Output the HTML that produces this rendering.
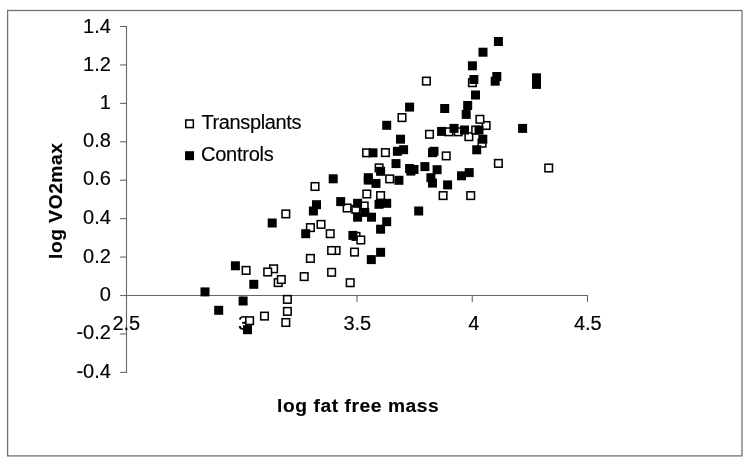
<!DOCTYPE html>
<html><head><meta charset="utf-8"><title>Scatter plot</title>
<style>
html,body{margin:0;padding:0;background:#fff}
body{width:750px;height:465px;overflow:hidden}
svg{display:block}
text{font-family:"Liberation Sans",Arial,sans-serif;fill:#000;stroke:#000;stroke-width:0.15px}
</style></head><body>
<svg width="750" height="465" viewBox="0 0 750 465">
<rect width="750" height="465" fill="#fff"/>
<rect x="7.6" y="10.5" width="734.4" height="445.4" fill="#fff" stroke="#727272" stroke-width="1.3"/>
<path d="M126.5 25.9V372.97M126.5 295.55H588.1" stroke="#666" stroke-width="1.1" fill="none"/>
<path d="M120.1 26.50H126.5" stroke="#666" stroke-width="1.1"/>
<text x="110.9" y="32.8" text-anchor="end" font-size="20">1.4</text>
<path d="M120.1 64.93H126.5" stroke="#666" stroke-width="1.1"/>
<text x="110.9" y="71.0" text-anchor="end" font-size="20">1.2</text>
<path d="M120.1 103.36H126.5" stroke="#666" stroke-width="1.1"/>
<text x="110.9" y="108.7" text-anchor="end" font-size="20">1</text>
<path d="M120.1 141.79H126.5" stroke="#666" stroke-width="1.1"/>
<text x="110.9" y="146.6" text-anchor="end" font-size="20">0.8</text>
<path d="M120.1 180.22H126.5" stroke="#666" stroke-width="1.1"/>
<text x="110.9" y="185.1" text-anchor="end" font-size="20">0.6</text>
<path d="M120.1 218.65H126.5" stroke="#666" stroke-width="1.1"/>
<text x="110.9" y="224.3" text-anchor="end" font-size="20">0.4</text>
<path d="M120.1 257.08H126.5" stroke="#666" stroke-width="1.1"/>
<text x="110.9" y="262.8" text-anchor="end" font-size="20">0.2</text>
<path d="M120.1 295.51H126.5" stroke="#666" stroke-width="1.1"/>
<text x="110.9" y="300.7" text-anchor="end" font-size="20">0</text>
<path d="M120.1 333.94H126.5" stroke="#666" stroke-width="1.1"/>
<text x="110.9" y="339.3" text-anchor="end" font-size="20">-0.2</text>
<path d="M120.1 372.37H126.5" stroke="#666" stroke-width="1.1"/>
<text x="110.9" y="377.5" text-anchor="end" font-size="20">-0.4</text>
<text x="112.40" y="329.9" font-size="20" >2.5</text>
<path d="M241.75 295.55V301.9" stroke="#666" stroke-width="1.1"/>
<text x="238.10" y="329.9" font-size="20" >3</text>
<path d="M357.00 295.55V301.9" stroke="#666" stroke-width="1.1"/>
<text x="343.40" y="329.9" font-size="20" >3.5</text>
<path d="M472.25 295.55V301.9" stroke="#666" stroke-width="1.1"/>
<text x="468.30" y="329.9" font-size="20" >4</text>
<path d="M587.50 295.55V301.9" stroke="#666" stroke-width="1.1"/>
<text x="573.90" y="329.9" font-size="20" >4.5</text>
<rect x="242.32" y="266.62" width="7.55" height="7.55" fill="#fff" stroke="#000" stroke-width="1.55"/>
<rect x="269.83" y="265.03" width="7.55" height="7.55" fill="#fff" stroke="#000" stroke-width="1.55"/>
<rect x="263.93" y="268.23" width="7.55" height="7.55" fill="#fff" stroke="#000" stroke-width="1.55"/>
<rect x="274.43" y="278.83" width="7.55" height="7.55" fill="#fff" stroke="#000" stroke-width="1.55"/>
<rect x="277.53" y="275.73" width="7.55" height="7.55" fill="#fff" stroke="#000" stroke-width="1.55"/>
<rect x="283.62" y="295.62" width="7.55" height="7.55" fill="#fff" stroke="#000" stroke-width="1.55"/>
<rect x="283.62" y="307.62" width="7.55" height="7.55" fill="#fff" stroke="#000" stroke-width="1.55"/>
<rect x="282.03" y="318.73" width="7.55" height="7.55" fill="#fff" stroke="#000" stroke-width="1.55"/>
<rect x="260.73" y="312.33" width="7.55" height="7.55" fill="#fff" stroke="#000" stroke-width="1.55"/>
<rect x="245.82" y="316.93" width="7.55" height="7.55" fill="#fff" stroke="#000" stroke-width="1.55"/>
<rect x="282.03" y="210.12" width="7.55" height="7.55" fill="#fff" stroke="#000" stroke-width="1.55"/>
<rect x="311.23" y="182.72" width="7.55" height="7.55" fill="#fff" stroke="#000" stroke-width="1.55"/>
<rect x="306.62" y="223.82" width="7.55" height="7.55" fill="#fff" stroke="#000" stroke-width="1.55"/>
<rect x="317.23" y="220.62" width="7.55" height="7.55" fill="#fff" stroke="#000" stroke-width="1.55"/>
<rect x="326.43" y="229.92" width="7.55" height="7.55" fill="#fff" stroke="#000" stroke-width="1.55"/>
<rect x="343.33" y="204.22" width="7.55" height="7.55" fill="#fff" stroke="#000" stroke-width="1.55"/>
<rect x="352.03" y="205.62" width="7.55" height="7.55" fill="#fff" stroke="#000" stroke-width="1.55"/>
<rect x="360.43" y="202.22" width="7.55" height="7.55" fill="#fff" stroke="#000" stroke-width="1.55"/>
<rect x="363.03" y="190.22" width="7.55" height="7.55" fill="#fff" stroke="#000" stroke-width="1.55"/>
<rect x="376.83" y="191.82" width="7.55" height="7.55" fill="#fff" stroke="#000" stroke-width="1.55"/>
<rect x="385.93" y="175.12" width="7.55" height="7.55" fill="#fff" stroke="#000" stroke-width="1.55"/>
<rect x="352.23" y="232.62" width="7.55" height="7.55" fill="#fff" stroke="#000" stroke-width="1.55"/>
<rect x="357.03" y="236.22" width="7.55" height="7.55" fill="#fff" stroke="#000" stroke-width="1.55"/>
<rect x="332.33" y="246.72" width="7.55" height="7.55" fill="#fff" stroke="#000" stroke-width="1.55"/>
<rect x="327.83" y="246.72" width="7.55" height="7.55" fill="#fff" stroke="#000" stroke-width="1.55"/>
<rect x="350.73" y="248.32" width="7.55" height="7.55" fill="#fff" stroke="#000" stroke-width="1.55"/>
<rect x="306.62" y="254.62" width="7.55" height="7.55" fill="#fff" stroke="#000" stroke-width="1.55"/>
<rect x="300.43" y="272.83" width="7.55" height="7.55" fill="#fff" stroke="#000" stroke-width="1.55"/>
<rect x="327.83" y="268.53" width="7.55" height="7.55" fill="#fff" stroke="#000" stroke-width="1.55"/>
<rect x="346.43" y="278.93" width="7.55" height="7.55" fill="#fff" stroke="#000" stroke-width="1.55"/>
<rect x="439.33" y="191.82" width="7.55" height="7.55" fill="#fff" stroke="#000" stroke-width="1.55"/>
<rect x="466.93" y="191.82" width="7.55" height="7.55" fill="#fff" stroke="#000" stroke-width="1.55"/>
<rect x="398.23" y="113.82" width="7.55" height="7.55" fill="#fff" stroke="#000" stroke-width="1.55"/>
<rect x="425.73" y="130.53" width="7.55" height="7.55" fill="#fff" stroke="#000" stroke-width="1.55"/>
<rect x="445.12" y="128.03" width="7.55" height="7.55" fill="#fff" stroke="#000" stroke-width="1.55"/>
<rect x="454.43" y="128.03" width="7.55" height="7.55" fill="#fff" stroke="#000" stroke-width="1.55"/>
<rect x="465.12" y="132.92" width="7.55" height="7.55" fill="#fff" stroke="#000" stroke-width="1.55"/>
<rect x="442.43" y="152.12" width="7.55" height="7.55" fill="#fff" stroke="#000" stroke-width="1.55"/>
<rect x="482.33" y="121.72" width="7.55" height="7.55" fill="#fff" stroke="#000" stroke-width="1.55"/>
<rect x="476.12" y="115.52" width="7.55" height="7.55" fill="#fff" stroke="#000" stroke-width="1.55"/>
<rect x="471.93" y="126.32" width="7.55" height="7.55" fill="#fff" stroke="#000" stroke-width="1.55"/>
<rect x="478.23" y="139.42" width="7.55" height="7.55" fill="#fff" stroke="#000" stroke-width="1.55"/>
<rect x="468.62" y="78.92" width="7.55" height="7.55" fill="#fff" stroke="#000" stroke-width="1.55"/>
<rect x="494.62" y="159.62" width="7.55" height="7.55" fill="#fff" stroke="#000" stroke-width="1.55"/>
<rect x="544.93" y="164.22" width="7.55" height="7.55" fill="#fff" stroke="#000" stroke-width="1.55"/>
<rect x="422.62" y="77.32" width="7.55" height="7.55" fill="#fff" stroke="#000" stroke-width="1.55"/>
<rect x="362.83" y="149.03" width="7.55" height="7.55" fill="#fff" stroke="#000" stroke-width="1.55"/>
<rect x="381.62" y="148.82" width="7.55" height="7.55" fill="#fff" stroke="#000" stroke-width="1.55"/>
<rect x="375.33" y="164.12" width="7.55" height="7.55" fill="#fff" stroke="#000" stroke-width="1.55"/>
<rect x="200.50" y="287.40" width="9.0" height="9.0" fill="#000"/>
<rect x="214.20" y="305.80" width="9.0" height="9.0" fill="#000"/>
<rect x="230.90" y="261.30" width="9.0" height="9.0" fill="#000"/>
<rect x="249.30" y="279.80" width="9.0" height="9.0" fill="#000"/>
<rect x="238.60" y="296.50" width="9.0" height="9.0" fill="#000"/>
<rect x="243.00" y="325.20" width="9.0" height="9.0" fill="#000"/>
<rect x="267.70" y="218.50" width="9.0" height="9.0" fill="#000"/>
<rect x="328.70" y="174.30" width="9.0" height="9.0" fill="#000"/>
<rect x="312.00" y="200.20" width="9.0" height="9.0" fill="#000"/>
<rect x="308.90" y="206.50" width="9.0" height="9.0" fill="#000"/>
<rect x="301.20" y="229.20" width="9.0" height="9.0" fill="#000"/>
<rect x="336.20" y="197.10" width="9.0" height="9.0" fill="#000"/>
<rect x="353.10" y="198.80" width="9.0" height="9.0" fill="#000"/>
<rect x="360.30" y="207.90" width="9.0" height="9.0" fill="#000"/>
<rect x="374.50" y="199.80" width="9.0" height="9.0" fill="#000"/>
<rect x="382.20" y="198.80" width="9.0" height="9.0" fill="#000"/>
<rect x="353.10" y="212.70" width="9.0" height="9.0" fill="#000"/>
<rect x="367.00" y="212.70" width="9.0" height="9.0" fill="#000"/>
<rect x="382.20" y="217.20" width="9.0" height="9.0" fill="#000"/>
<rect x="376.10" y="224.70" width="9.0" height="9.0" fill="#000"/>
<rect x="348.40" y="230.90" width="9.0" height="9.0" fill="#000"/>
<rect x="363.80" y="173.20" width="9.0" height="9.0" fill="#000"/>
<rect x="363.80" y="175.60" width="9.0" height="9.0" fill="#000"/>
<rect x="371.50" y="178.90" width="9.0" height="9.0" fill="#000"/>
<rect x="394.40" y="175.80" width="9.0" height="9.0" fill="#000"/>
<rect x="376.10" y="166.80" width="9.0" height="9.0" fill="#000"/>
<rect x="376.10" y="247.80" width="9.0" height="9.0" fill="#000"/>
<rect x="366.80" y="255.10" width="9.0" height="9.0" fill="#000"/>
<rect x="414.20" y="206.50" width="9.0" height="9.0" fill="#000"/>
<rect x="391.50" y="159.10" width="9.0" height="9.0" fill="#000"/>
<rect x="405.10" y="164.00" width="9.0" height="9.0" fill="#000"/>
<rect x="409.50" y="165.00" width="9.0" height="9.0" fill="#000"/>
<rect x="406.30" y="166.60" width="9.0" height="9.0" fill="#000"/>
<rect x="420.40" y="162.10" width="9.0" height="9.0" fill="#000"/>
<rect x="432.60" y="165.20" width="9.0" height="9.0" fill="#000"/>
<rect x="426.40" y="173.20" width="9.0" height="9.0" fill="#000"/>
<rect x="428.00" y="178.60" width="9.0" height="9.0" fill="#000"/>
<rect x="443.10" y="180.40" width="9.0" height="9.0" fill="#000"/>
<rect x="457.00" y="171.30" width="9.0" height="9.0" fill="#000"/>
<rect x="464.70" y="168.10" width="9.0" height="9.0" fill="#000"/>
<rect x="382.20" y="120.80" width="9.0" height="9.0" fill="#000"/>
<rect x="396.00" y="134.70" width="9.0" height="9.0" fill="#000"/>
<rect x="392.90" y="146.80" width="9.0" height="9.0" fill="#000"/>
<rect x="399.10" y="145.20" width="9.0" height="9.0" fill="#000"/>
<rect x="368.50" y="148.30" width="9.0" height="9.0" fill="#000"/>
<rect x="437.10" y="126.90" width="9.0" height="9.0" fill="#000"/>
<rect x="449.50" y="123.90" width="9.0" height="9.0" fill="#000"/>
<rect x="460.00" y="125.50" width="9.0" height="9.0" fill="#000"/>
<rect x="428.00" y="148.20" width="9.0" height="9.0" fill="#000"/>
<rect x="429.50" y="146.80" width="9.0" height="9.0" fill="#000"/>
<rect x="461.70" y="109.90" width="9.0" height="9.0" fill="#000"/>
<rect x="463.20" y="101.00" width="9.0" height="9.0" fill="#000"/>
<rect x="474.50" y="125.60" width="9.0" height="9.0" fill="#000"/>
<rect x="478.30" y="134.70" width="9.0" height="9.0" fill="#000"/>
<rect x="472.20" y="145.30" width="9.0" height="9.0" fill="#000"/>
<rect x="518.10" y="123.90" width="9.0" height="9.0" fill="#000"/>
<rect x="467.90" y="61.30" width="9.0" height="9.0" fill="#000"/>
<rect x="469.40" y="75.00" width="9.0" height="9.0" fill="#000"/>
<rect x="492.30" y="72.00" width="9.0" height="9.0" fill="#000"/>
<rect x="490.70" y="76.70" width="9.0" height="9.0" fill="#000"/>
<rect x="471.00" y="90.50" width="9.0" height="9.0" fill="#000"/>
<rect x="478.50" y="47.70" width="9.0" height="9.0" fill="#000"/>
<rect x="493.90" y="37.00" width="9.0" height="9.0" fill="#000"/>
<rect x="532.00" y="73.30" width="9.0" height="9.0" fill="#000"/>
<rect x="532.00" y="79.90" width="9.0" height="9.0" fill="#000"/>
<rect x="405.10" y="102.60" width="9.0" height="9.0" fill="#000"/>
<rect x="440.20" y="104.00" width="9.0" height="9.0" fill="#000"/>
<rect x="185.78" y="120.02" width="7.55" height="7.55" fill="#fff" stroke="#000" stroke-width="1.55"/>
<rect x="185.05" y="151.20" width="9.0" height="9.0" fill="#000"/>
<text x="201.4" y="128.8" font-size="20" letter-spacing="-0.36">Transplants</text>
<text x="201.1" y="160.5" font-size="20" letter-spacing="-0.27">Controls</text>
<text x="277.0" y="411.8" font-size="19.2" font-weight="bold" stroke="none" letter-spacing="0.58">log fat free mass</text>
<text transform="translate(62.0 259.0) rotate(-90)" font-size="19.2" font-weight="bold" stroke="none" letter-spacing="0.55">log VO2max</text>
</svg>
</body></html>
